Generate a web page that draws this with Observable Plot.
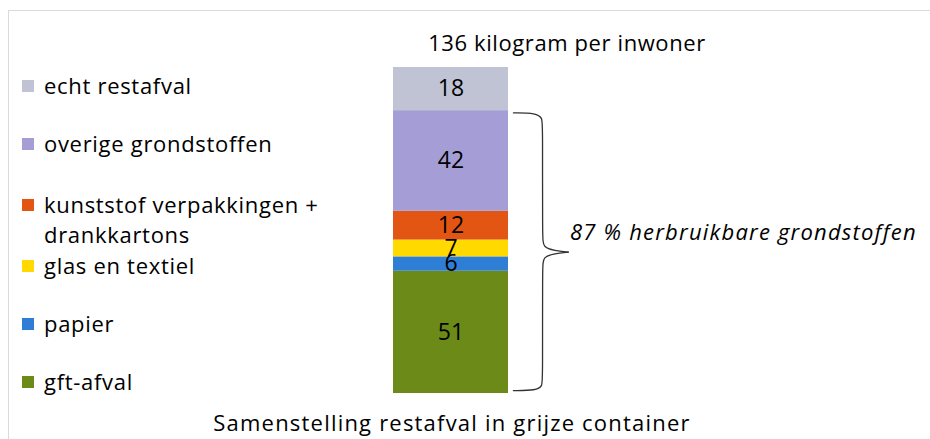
<!DOCTYPE html>
<html>
<head>
<meta charset="utf-8">
<script src="https://cdn.jsdelivr.net/npm/d3@7"></script>
<script src="https://cdn.jsdelivr.net/npm/@observablehq/plot@0.6"></script>
<style>
  body { margin: 0; background: #fff; font-family: "Open Sans", sans-serif; color: #000; }
  #wrap { position: relative; width: 930px; height: 439px; overflow: hidden; background: #fff; }
  #frame { position: absolute; left: 8px; top: 10px; width: 940px; height: 440px;
           border-left: 1px solid #dadada; border-top: 1px solid #dadada; }
  #chart { position: absolute; left: 0; top: 0; }
  .title { position: absolute; font-size: 22px; line-height: 24px; white-space: nowrap; transform: translateX(-50%); }
  .legend-item { position: absolute; left: 22px; display: flex; align-items: flex-start;
                 font-size: 22px; line-height: 30px; white-space: pre; letter-spacing: 0.7px; }
  .sw { width: 12px; height: 12px; margin-top: 10px; margin-right: 10px; flex: none; }
  .brace-label { letter-spacing: 1.2px; }
</style>
</head>
<body>
<div id="wrap">
  <div id="frame"></div>
  <div id="chart"></div>
</div>
<script>
// ---- data (bottom to top of the stacked bar) ----
const categories = ["gft-afval", "papier", "glas en textiel", "kunststof verpakkingen + drankkartons", "overige grondstoffen", "echt restafval"];
const values = [51, 6, 7, 12, 42, 18];
const colors = ["#6b8a18", "#2f7ed6", "#ffd900", "#e25512", "#a59dd6", "#bfc3d3"];
const residualCategory = "echt restafval";
const titleSuffix = "kilogram per inwoner";
const braceSuffix = "% herbruikbare grondstoffen";
const captionText = "Samenstelling restafval in grijze container";

const data = categories.map((c, i) => ({category: c, value: values[i]}));
const total = d3.sum(values);
const recyclable = d3.sum(data.filter(d => d.category !== residualCategory), d => d.value);
const pct = Math.round(recyclable / total * 100);
const mid = recyclable / 2;

// brace annotation geometry (x in bar-width units, y in data units)
const brace = [
  [1.043, recyclable - 0.9], [1.24, recyclable - 1.0], [1.296, recyclable - 3], [1.296, recyclable - 7],
  [1.296, mid + 6], [1.30, mid + 2], [1.40, mid + 0.6], [1.52, mid]
].map(([x, y]) => ({x, y, half: "top"}))
 .concat([
  [1.52, mid], [1.40, mid - 0.6], [1.30, mid - 2], [1.296, mid - 6],
  [1.296, 7], [1.296, 3], [1.24, 1.3], [1.043, 1.2]
].map(([x, y]) => ({x, y, half: "bottom"})));

const chart = Plot.plot({
  width: 930,
  height: 439,
  marginTop: 67,
  marginBottom: 46,
  marginLeft: 393,
  marginRight: 422,
  x: {domain: [0, 1], axis: null},
  y: {domain: [0, total], axis: null},
  color: {domain: categories, range: colors},
  style: {background: "transparent", fontFamily: "Open Sans"},
  marks: [
    Plot.rectY(data, Plot.stackY({x1: 0, x2: 1, y: "value", fill: "category"})),
    Plot.text(data, Plot.stackY({x: 0.5, y: "value", text: d => String(d.value), fontSize: 23, fill: "#000"})),
    Plot.line(brace, {x: "x", y: "y", z: "half", curve: "basis", stroke: "#333", strokeWidth: 1.3}),
    Plot.text([`${pct} ${braceSuffix}`], {x: 1.535, y: mid + 8, text: d => d, textAnchor: "start",
      fontSize: 22, fontStyle: "italic", fill: "#000", className: "brace-label"})
  ]
});
document.getElementById("chart").appendChild(chart);

const wrap = document.getElementById("wrap");
function addTitle(text, cx, top, spacing) {
  const t = document.createElement("div");
  t.className = "title";
  t.textContent = text;
  t.style.left = cx + "px";
  t.style.top = top + "px";
  t.style.letterSpacing = spacing + "px";
  wrap.appendChild(t);
}
addTitle(`${total} ${titleSuffix}`, 567, 30, 0.6);
addTitle(captionText, 452, 410, 1.2);

// legend: top to bottom
const legendTops = [70, 128, 189, 250, 308, 366];
data.slice().reverse().forEach((d, i) => {
  const item = document.createElement("div");
  item.className = "legend-item";
  item.style.top = legendTops[i] + "px";
  const sw = document.createElement("div");
  sw.className = "sw";
  sw.style.background = colors[categories.indexOf(d.category)];
  const lab = document.createElement("div");
  lab.textContent = d.category.replace("+ ", "+\n");
  item.appendChild(sw);
  item.appendChild(lab);
  wrap.appendChild(item);
});
</script>
</body>
</html>
